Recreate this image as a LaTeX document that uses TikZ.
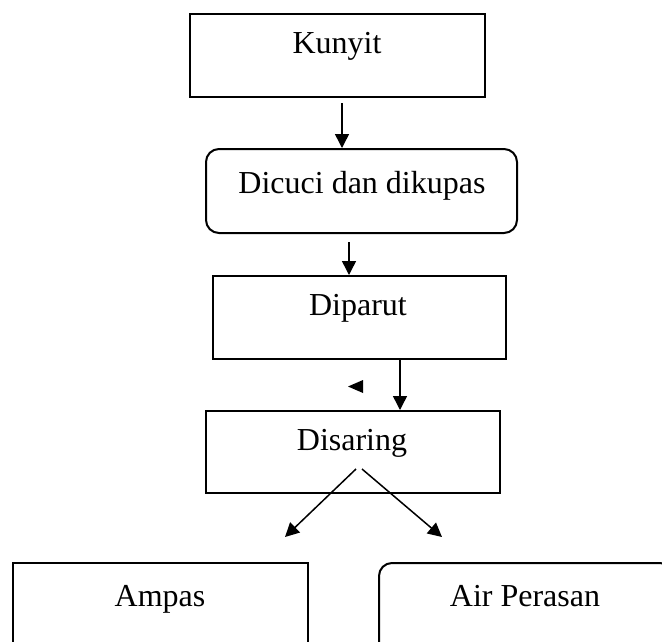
\documentclass[tikz,border=0pt]{standalone}
\usepackage{fontspec}
\setmainfont{Liberation Serif}
\usetikzlibrary{arrows.meta,calc}
\begin{document}
\begin{tikzpicture}[x=1pt,y=1pt,
  box/.style={draw, line width=2pt, rectangle, inner sep=0pt, anchor=north west},
  rbox/.style={box, rounded corners=13pt},
  lbl/.style={font=\fontsize{32}{38}\selectfont, anchor=base, inner sep=0pt},
  arr/.style={line width=1.5pt, -{Triangle[length=14pt,width=14pt]}}]
\useasboundingbox (0,0) rectangle (662,-641);
\clip (0,0) rectangle (662,-641);
% boxes
\node[box,  minimum width=295pt, minimum height=83pt] (kunyit)  at (189,-13) {};
\node[rbox, minimum width=311pt, minimum height=84pt] (dicuci)  at (205,-148) {};
\node[box,  minimum width=293pt, minimum height=83pt] (diparut) at (212,-275) {};
\node[box,  minimum width=294pt, minimum height=82pt] (disaring) at (205,-410) {};
\node[box,  minimum width=295pt, minimum height=100pt] (ampas)  at (12,-562) {};
\node[rbox, minimum width=294pt, minimum height=100pt] (air)    at (378,-562) {};
% texts
\node[lbl] (kunyitT)  at (337,-53)  {Kunyit};
\node[lbl] (dicuciT)  at (362,-193) {Dicuci dan dikupas};
\node[lbl] (diparutT) at (358,-315) {Diparut};
\node[lbl] (disaringT) at (352,-450) {Disaring};
\node[lbl] (ampasT)   at (160,-606) {Ampas};
\node[lbl] (airT)     at (525,-606) {Air Perasan};
% connectors
\coordinate (a1) at (342,-103);
\draw[arr] (a1) -- (a1 |- dicuci.north);
\coordinate (a2) at (349,-242);
\draw[arr] (a2) -- (a2 |- diparut.north);
\coordinate (a3) at (400,-358);
\draw[arr] (a3 |- diparut.south) -- (a3 |- disaring.north);
\coordinate (a4s) at (356,-469);
\coordinate (a4e) at (285,-537);
\draw[arr] (a4s) -- (a4e);
\coordinate (a5s) at (362,-469);
\coordinate (a5e) at (442,-537);
\draw[arr] (a5s) -- (a5e);
% stray marker
\fill (363,-380) -- (363,-393) -- (348,-386.5) -- cycle;
\end{tikzpicture}
\end{document}
